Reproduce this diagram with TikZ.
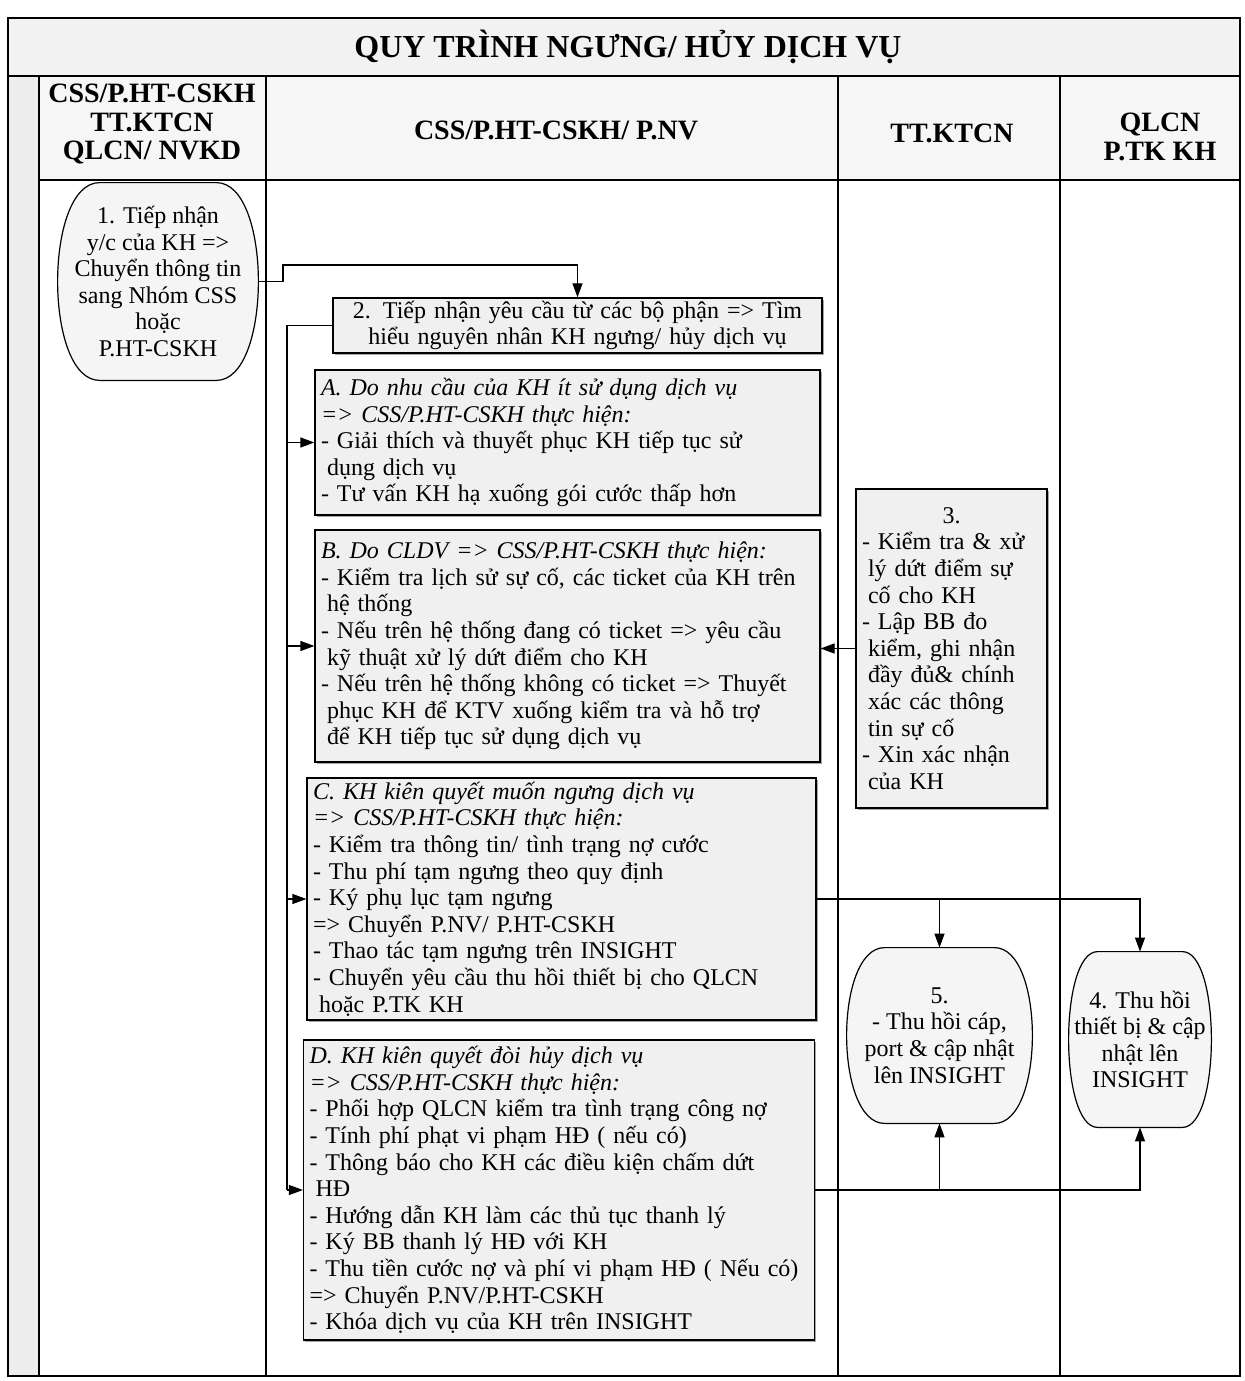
\documentclass[tikz,border=0pt]{standalone}
\usepackage{fontspec}
\setmainfont{Liberation Serif}
\usetikzlibrary{arrows.meta,backgrounds,shadows}

% indent of a wrapped line
\newcommand\cont{\hspace*{3pt}}
% curved-side outline round a named node, #2 = inset of the flat top
\newcommand\barrel[2]{%
  \filldraw[barrelline] ([xshift=#2]#1.north west) -- ([xshift=-#2]#1.north east)
    .. controls ([xshift=#2/3]#1.north east) and ([xshift=#2/3]#1.south east) .. ([xshift=-#2]#1.south east)
    -- ([xshift=#2]#1.south west)
    .. controls ([xshift=-#2/3]#1.south west) and ([xshift=-#2/3]#1.north west) .. cycle;
}

\tikzset{
  frame/.style={line width=0.8pt},
  body/.style={font=\fontsize{12}{13.3}\selectfont},
  stepbox/.style 2 args={draw, line width=0.6pt, fill=gray!12, body, align=left,
    text width=#1, minimum height=#2, inner xsep=3pt, inner ysep=1.5pt,
    drop shadow={shadow xshift=0.8pt, shadow yshift=-0.8pt, fill=black!70}},
  barreltext/.style 2 args={body, align=center, inner sep=0pt, minimum width=#1, minimum height=#2},
  barrelline/.style={line width=0.6pt, fill=gray!8},
  lanehead/.style={font=\bfseries\fontsize{14}{14.3}\selectfont, align=center},
  flow/.style={line width=0.6pt, -{Triangle[length=7pt,width=5pt]}},
}

\begin{document}
\begin{tikzpicture}[x=0.5pt, y=-0.5pt]
    \useasboundingbox (0,0) rectangle (1244,1381);

    % Frame and lanes
    \fill[gray!10] (8,18) rectangle (1240,76);
    \fill[gray!7] (39,76) rectangle (1240,180);
    \fill[gray!14] (8,76) rectangle (39,1376);
    \draw[frame] (8,18) rectangle (1240,1376);
    \draw[frame] (8,76) -- (1240,76);
    \draw[frame] (39,180) -- (1240,180);
    \foreach \x in {39,266,838,1060}
        \draw[frame] (\x,76) -- (\x,1376);

    % Title and lane heads
    \node[font=\bfseries\fontsize{16}{18}\selectfont] (title) at (628,47) {QUY TRÌNH NGƯNG/ HỦY DỊCH VỤ};
    \node[lanehead] (head1) at (152,124) {CSS/P.HT-CSKH\\TT.KTCN\\QLCN/ NVKD};
    \node[lanehead] (head2) at (556,130) {CSS/P.HT-CSKH/ P.NV};
    \node[lanehead] (head3) at (952,133) {TT.KTCN};
    \node[lanehead] (head4) at (1160,137) {QLCN\\P.TK KH};

    % Steps
    \node[barreltext={100pt}{98.5pt}] (start) at (158,281.5)
        {1. Tiếp nhận\\y/c của KH =>\\Chuyển thông tin\\sang Nhóm CSS\\hoặc\\P.HT-CSKH};
    \node[stepbox={238.5pt}{27.5pt}, align=center] (recv) at (577.5,325.5)
        {2. Tiếp nhận yêu cầu từ các bộ phận => Tìm\\hiểu nguyên nhân KH ngưng/ hủy dịch vụ};
    \node[stepbox={246.5pt}{72.5pt}] (needA) at (567.5,442.5)
        {\textit{A. Do nhu cầu của KH ít sử dụng dịch vụ}\\
         \textit{=> CSS/P.HT-CSKH thực hiện:}\\
         - Giải thích và thuyết phục KH tiếp tục sử\\
         \cont dụng dịch vụ\\
         - Tư vấn KH hạ xuống gói cước thấp hơn};
    \node[stepbox={246.5pt}{116pt}] (needB) at (567.5,646)
        {\textit{B. Do CLDV => CSS/P.HT-CSKH thực hiện:}\\
         - Kiểm tra lịch sử sự cố, các ticket của KH trên\\
         \cont hệ thống\\
         - Nếu trên hệ thống đang có ticket => yêu cầu\\
         \cont kỹ thuật xử lý dứt điểm cho KH\\
         - Nếu trên hệ thống không có ticket => Thuyết\\
         \cont phục KH để KTV xuống kiểm tra và hỗ trợ\\
         \cont để KH tiếp tục sử dụng dịch vụ};
    \node[stepbox={248.5pt}{121pt}] (needC) at (561.5,899)
        {\textit{C. KH kiên quyết muốn ngưng dịch vụ}\\
         \textit{=> CSS/P.HT-CSKH thực hiện:}\\
         - Kiểm tra thông tin/ tình trạng nợ cước\\
         - Thu phí tạm ngưng theo quy định\\
         - Ký phụ lục tạm ngưng\\
         => Chuyển P.NV/ P.HT-CSKH\\
         - Thao tác tạm ngưng trên INSIGHT\\
         - Chuyển yêu cầu thu hồi thiết bị cho QLCN\\
         \cont hoặc P.TK KH};
    \node[stepbox={249.5pt}{150pt}] (needD) at (559,1190)
        {\textit{D. KH kiên quyết đòi hủy dịch vụ}\\
         \textit{=> CSS/P.HT-CSKH thực hiện:}\\
         - Phối hợp QLCN kiểm tra tình trạng công nợ\\
         - Tính phí phạt vi phạm HĐ ( nếu có)\\
         - Thông báo cho KH các điều kiện chấm dứt\\
         \cont HĐ\\
         - Hướng dẫn KH làm các thủ tục thanh lý\\
         - Ký BB thanh lý HĐ với KH\\
         - Thu tiền cước nợ và phí vi phạm HĐ ( Nếu có)\\
         => Chuyển P.NV/P.HT-CSKH\\
         - Khóa dịch vụ của KH trên INSIGHT};
    \node[stepbox={89.5pt}{159.5pt}] (fix) at (951.5,648.5)
        {\makebox[\linewidth]{3.}\\
         - Kiểm tra \& xử\\
         \cont lý dứt điểm sự\\
         \cont cố cho KH\\
         - Lập BB đo\\
         \cont kiểm, ghi nhận\\
         \cont đầy đủ\& chính\\
         \cont xác các thông\\
         \cont tin sự cố\\
         - Xin xác nhận\\
         \cont của KH};
    \node[barreltext={92.5pt}{87.5pt}] (cable) at (939.5,1035.5)
        {5.\\- Thu hồi cáp,\\port \& cập nhật\\lên INSIGHT};
    \node[barreltext={71pt}{87.5pt}] (recover) at (1140,1039.5)
        {4. Thu hồi\\thiết bị \& cập\\nhật lên\\INSIGHT};

    \begin{scope}[on background layer]
        \barrel{start}{21pt}
        \barrel{cable}{19pt}
        \barrel{recover}{14.5pt}
    \end{scope}

    % Connectors
    \coordinate (hop) at (283,265);
    \coordinate (bus) at (287,0);
    \draw[flow] (start.east) -| (hop) -| (recv.north);
    \draw[line width=0.6pt] (recv.west) -| (bus |- needD.west);
    \foreach \n in {needA,needB,needC,needD}
        \draw[flow] (bus |- \n.west) -- (\n.west);
    \draw[flow] (fix.west) -- (fix.west -| needB.east);
    \draw[flow] (needC.east) -| (recover.north);
    \draw[flow] (needC.east -| cable.north) -- (cable.north);
    \draw[flow] (needD.east) -| (recover.south);
    \draw[flow] (needD.east -| cable.south) -- (cable.south);
\end{tikzpicture}
\end{document}
